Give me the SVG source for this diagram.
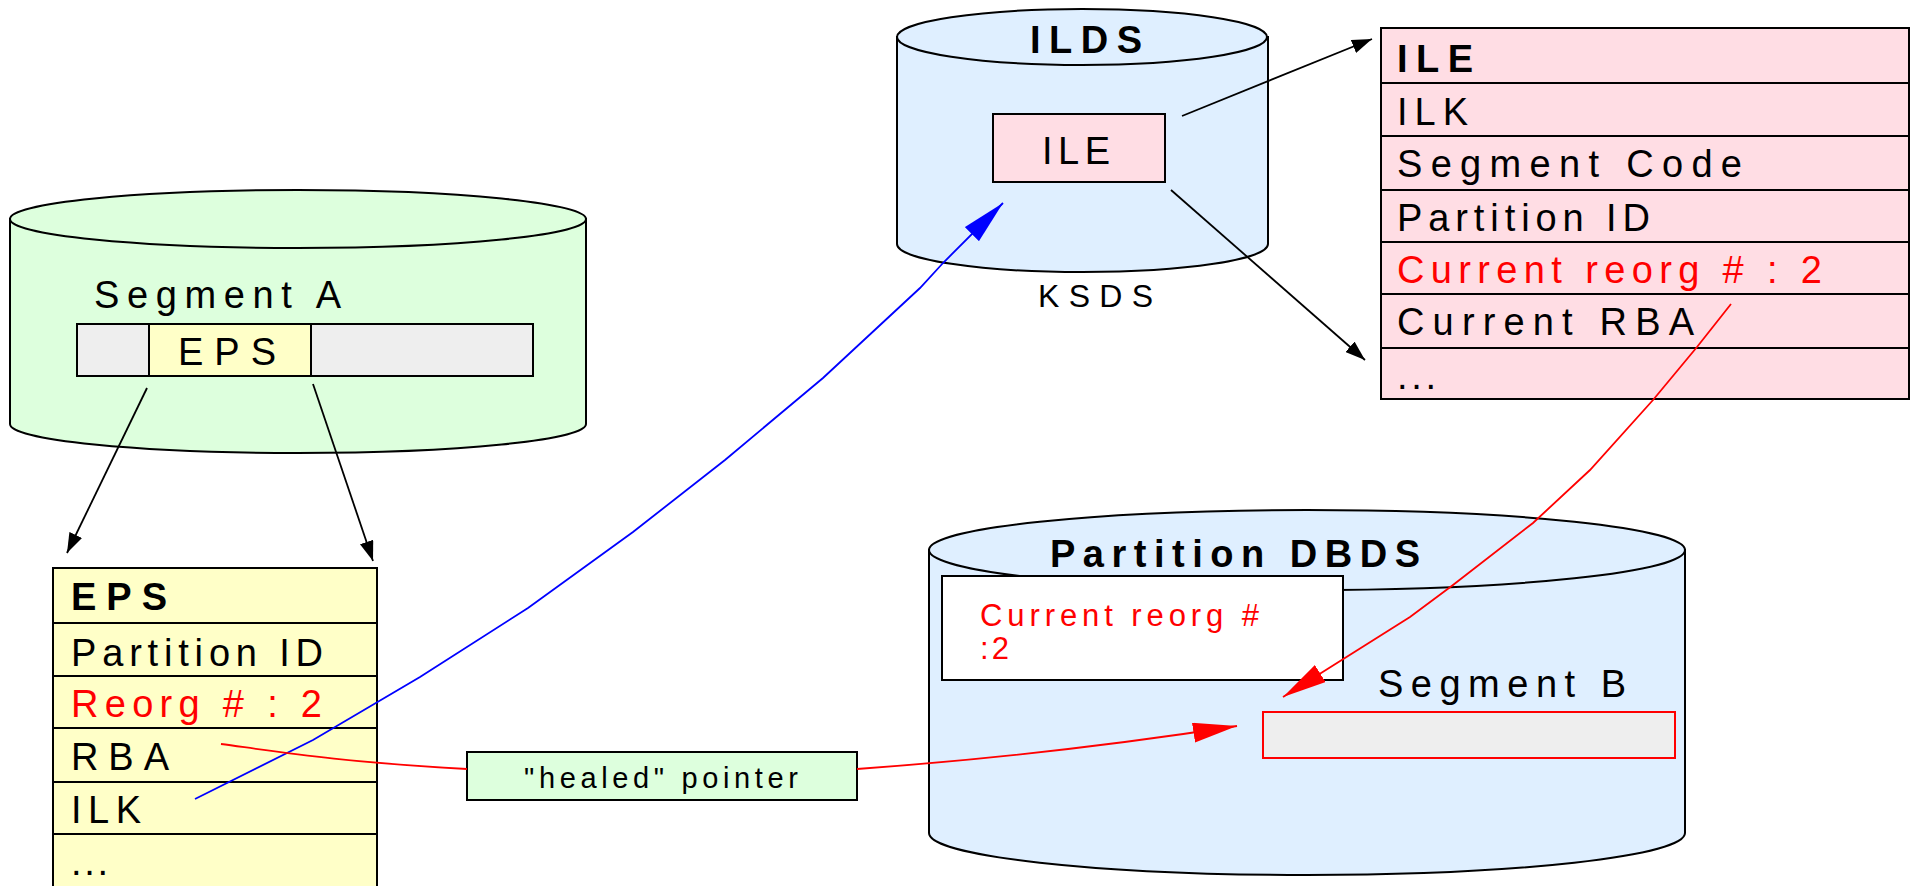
<svg xmlns="http://www.w3.org/2000/svg" width="1915" height="886" viewBox="0 0 1915 886">
<defs>
<style>
text{font-family:"Liberation Sans",Arial,sans-serif;fill:#000}
.t{font-size:38px}
.b{font-weight:bold}
.r{fill:#ff0000}
.cyl{stroke:#000;stroke-width:2}
.box{stroke:#000;stroke-width:2}
.con{fill:none;stroke-width:1.8}
</style>
<marker id="ab" viewBox="0 0 20 14" refX="20" refY="7" markerWidth="20" markerHeight="14" markerUnits="userSpaceOnUse" orient="auto"><path d="M0,0 L20,7 L0,14 Z" fill="#000"/></marker>
<marker id="ar" viewBox="0 0 44 20" refX="44" refY="10" markerWidth="44" markerHeight="20" markerUnits="userSpaceOnUse" orient="auto"><path d="M0,0 L44,10 L0,20 Z" fill="#ff0000"/></marker>
<marker id="abl" viewBox="0 0 44 20" refX="44" refY="10" markerWidth="44" markerHeight="20" markerUnits="userSpaceOnUse" orient="auto"><path d="M0,0 L44,10 L0,20 Z" fill="#0000ff"/></marker>
</defs>
<rect width="1915" height="886" fill="#fff"/>

<g id="segmentA-cylinder">
<path class="cyl" d="M10,219 L10,424 A288,29 0 0 0 586,424 L586,219 Z" fill="#ddffdd"/>
<ellipse class="cyl" cx="298" cy="219" rx="288" ry="29" fill="#ddffdd"/>
<text class="t" x="94" y="308" textLength="247">Segment A</text>
<rect class="box" x="77" y="324" width="456" height="52" fill="#eeeeee"/>
<rect class="box" x="149" y="324" width="162" height="52" fill="#ffffc8"/>
<text class="t" x="178" y="365" textLength="98">EPS</text>
</g>

<g id="eps-table">
<rect class="box" x="53" y="568" width="324" height="340" fill="#ffffc8"/>
<path class="box" fill="none" d="M53,623 H377 M53,676 H377 M53,728 H377 M53,782 H377 M53,834 H377"/>
<text class="t b" x="71" y="610" textLength="96">EPS</text>
<text class="t" x="71" y="666" textLength="252">Partition ID</text>
<text class="t r" x="71" y="717" textLength="251">Reorg # : 2</text>
<text class="t" x="71" y="770" textLength="98">RBA</text>
<text class="t" x="71" y="823" textLength="70">ILK</text>
<text class="t" x="71" y="875" textLength="37">...</text>
</g>

<g id="ilds-cylinder">
<path class="cyl" d="M897,37 L897,244 A185,28 0 0 0 1268,244 L1268,37 Z" fill="#dfefff"/>
<ellipse class="cyl" cx="1082" cy="37" rx="185" ry="28" fill="#dfefff"/>
<text class="t b" x="1030" y="53" textLength="112">ILDS</text>
<rect class="box" x="993" y="114" width="172" height="68" fill="#ffdde4"/>
<text class="t" x="1042" y="164" textLength="68">ILE</text>
<text x="1038" y="307" font-size="32" textLength="115">KSDS</text>
</g>

<g id="ile-table">
<rect class="box" x="1381" y="28" width="528" height="371" fill="#ffdde4"/>
<path class="box" fill="none" d="M1381,83 H1909 M1381,136 H1909 M1381,190 H1909 M1381,242 H1909 M1381,294 H1909 M1381,348 H1909"/>
<text class="t b" x="1397" y="72" textLength="76">ILE</text>
<text class="t" x="1397" y="125" textLength="71">ILK</text>
<text class="t" x="1397" y="177" textLength="345">Segment Code</text>
<text class="t" x="1397" y="231" textLength="253">Partition ID</text>
<text class="t r" x="1397" y="283" textLength="425">Current reorg # : 2</text>
<text class="t" x="1397" y="335" textLength="297">Current RBA</text>
<text class="t" x="1397" y="389" textLength="39">...</text>
</g>

<g id="partition-dbds-cylinder">
<path class="cyl" d="M929,550 L929,833 A378,42 0 0 0 1685,833 L1685,550 Z" fill="#dfefff"/>
<ellipse class="cyl" cx="1307" cy="550" rx="378" ry="40" fill="#dfefff"/>
<text class="t b" x="1050" y="567" textLength="370">Partition DBDS</text>
<rect class="box" x="942" y="576" width="401" height="104" fill="#ffffff"/>
<text class="r" x="980" y="626" font-size="31" textLength="279">Current reorg #</text>
<text class="r" x="980" y="659" font-size="31" textLength="29">:2</text>
<text class="t" x="1378" y="697" textLength="248">Segment B</text>
<rect x="1263" y="712" width="412" height="46" fill="#eeeeee" stroke="#ff0000" stroke-width="2"/>
</g>

<g id="healed-pointer">
<rect class="box" x="467" y="752" width="390" height="48" fill="#ddffdd"/>
<text x="524" y="788" font-size="29" textLength="274">"healed" pointer</text>
</g>

<g id="connectors">
<path class="con" stroke="#000" d="M147,388 L67,553" marker-end="url(#ab)"/>
<path class="con" stroke="#000" d="M313,384 L373,561" marker-end="url(#ab)"/>
<path class="con" stroke="#000" d="M1182,116 L1372,39" marker-end="url(#ab)"/>
<path class="con" stroke="#000" d="M1171,190 L1365,360" marker-end="url(#ab)"/>
<path class="con" stroke="#0000ff" d="M195,799 L313,740 L420,677 L528,608 L633,532 L725,460 L823,378 L920,288 L943,263 L1003,203" marker-end="url(#abl)"/>
<path class="con" stroke="#ff0000" d="M221,744 C280,752 340,762 467,769"/>
<path class="con" stroke="#ff0000" d="M857,769 Q1050,755 1237,726" marker-end="url(#ar)"/>
<path class="con" stroke="#ff0000" d="M1731,304 L1697,347 L1653,400 L1590,470 L1533,523 L1453,585 L1410,617 L1283,697" marker-end="url(#ar)"/>
</g>
</svg>
